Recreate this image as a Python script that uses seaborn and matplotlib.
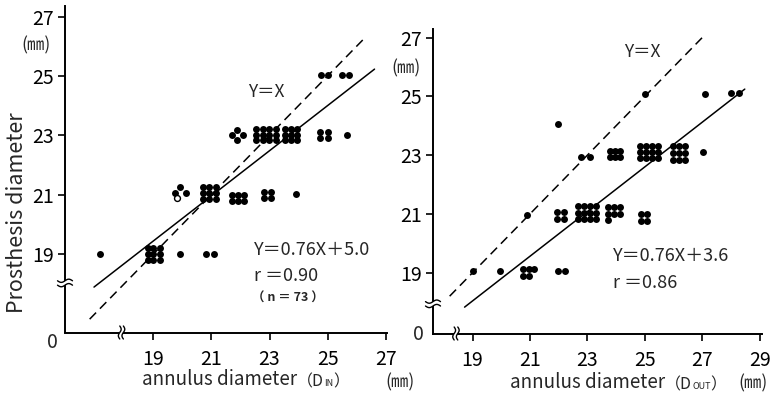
import numpy as np
import matplotlib
matplotlib.use("Agg")
import matplotlib.pyplot as plt
import matplotlib.transforms as mtransforms
import matplotlib.text as mtext
import seaborn as sns

# ---------------- data ----------------
# Left panel: annulus diameter (D_IN) vs prosthesis diameter
in_x = [
    24.78, 25.02, 25.50, 25.74,                                   # ~25
    21.89, 21.71, 22.07, 21.89,                                   # ~23
    22.55, 22.77, 22.99, 23.21, 22.55, 22.77, 22.99, 23.21, 22.55, 22.77, 22.99, 23.21,
    23.54, 23.75, 23.96, 23.54, 23.75, 23.96, 23.54, 23.75, 23.96,
    24.75, 25.02, 24.75, 25.02,
    25.67,
    19.93, 19.75, 20.11,                                          # ~21
    20.69, 20.93, 21.17, 20.69, 20.93, 21.17, 20.69, 20.93, 21.17,
    21.72, 21.92, 22.13, 21.72, 21.92, 22.13,
    22.82, 23.06, 22.82, 23.06,
    23.92,
    17.15,                                                        # ~19
    18.80, 19.00, 19.21, 18.80, 19.00, 19.21, 18.80, 19.00, 19.21,
    19.93,
    20.82, 21.07,
]
in_y = [
    25.03, 25.03, 25.03, 25.03,
    23.19, 23.02, 23.02, 22.85,
    23.20, 23.20, 23.20, 23.20, 23.02, 23.02, 23.02, 23.02, 22.84, 22.84, 22.84, 22.84,
    23.20, 23.20, 23.20, 23.02, 23.02, 23.02, 22.84, 22.84, 22.84,
    23.11, 23.11, 22.92, 22.92,
    23.02,
    21.24, 21.06, 21.06,
    21.26, 21.26, 21.26, 21.06, 21.06, 21.06, 20.86, 20.86, 20.86,
    20.99, 20.99, 20.99, 20.80, 20.80, 20.80,
    21.09, 21.09, 20.89, 20.89,
    21.02,
    19.00,
    19.21, 19.21, 19.21, 19.00, 19.00, 19.00, 18.79, 18.79, 18.79,
    19.00,
    19.00, 19.00,
]
in_open_x = [19.80]
in_open_y = [20.87]

# Right panel: annulus diameter (D_OUT) vs prosthesis diameter
out_x = [
    19.00, 19.94,                                                 # ~19
    20.76, 20.97, 21.14, 20.76, 20.97,
    21.97, 22.22,
    20.89,                                                        # ~21
    21.94, 22.18, 21.94, 22.18,
    22.67, 22.88, 23.09, 23.30, 22.67, 22.88, 23.09, 23.30, 22.67, 22.88, 23.09, 23.30,
    23.72, 23.93, 24.14, 23.72, 23.93, 24.14, 23.72,
    24.86, 25.07, 24.86, 25.07,
    22.77, 23.08,                                                 # ~23
    23.79, 23.97, 24.14, 23.79, 23.97, 24.14,
    24.83, 25.04, 25.25, 25.46, 24.83, 25.04, 25.25, 25.46, 24.83, 25.04, 25.25, 25.46,
    25.99, 26.20, 26.41, 25.99, 26.20, 26.41, 25.99, 26.20, 26.41,
    27.04,
    21.97, 25.00, 27.10, 27.99, 28.27,                            # upper
]
out_y = [
    19.06, 19.06,
    19.13, 19.13, 19.13, 18.88, 18.88,
    19.06, 19.06,
    20.96,
    21.06, 21.06, 20.81, 20.81,
    21.27, 21.27, 21.27, 21.27, 21.04, 21.04, 21.04, 21.04, 20.81, 20.81, 20.81, 20.81,
    21.23, 21.23, 21.23, 21.01, 21.01, 21.01, 20.79,
    21.00, 21.00, 20.77, 20.77,
    22.94, 22.94,
    23.14, 23.14, 23.14, 22.92, 22.92, 22.92,
    23.31, 23.31, 23.31, 23.31, 23.11, 23.11, 23.11, 23.11, 22.91, 22.91, 22.91, 22.91,
    23.31, 23.31, 23.31, 23.08, 23.08, 23.08, 22.85, 22.85, 22.85,
    23.12,
    24.07, 25.09, 25.08, 25.10, 25.10,
]

# regression lines (from the printed equations) and identity line
in_slope, in_intercept = 0.76, 5.0
out_slope, out_intercept = 0.76, 3.6
in_fit_x = [16.95, 26.62]
in_ident_x = [16.80, 26.30]
out_fit_x = [18.72, 28.48]
out_ident_x = [18.20, 27.10]

in_xticks = [19, 21, 23, 25, 27]
out_xticks = [19, 21, 23, 25, 27, 29]
y_ticks = [19, 21, 23, 25, 27]

in_eq = ["Y＝0.76X＋5.0", "r ＝0.90", "（ n ＝ 73 ）"]
out_eq = ["Y＝0.76X＋3.6", "r ＝0.86"]

# ---------------- style ----------------
sns.set_style("ticks")
plt.rcParams["font.family"] = ["Noto Sans CJK JP", "DejaVu Sans"]
plt.rcParams["axes.unicode_minus"] = False

W, H = 771, 394
fig = plt.figure(figsize=(W / 100, H / 100), dpi=100)
fig.patch.set_facecolor("white")


def px_axes(x0, x1, ytop, ybot):
    return fig.add_axes([x0 / W, 1 - ybot / H, (x1 - x0) / W, (ybot - ytop) / H])


def fx(px):
    return px / W


def fy(py):
    return 1 - py / H


ax1 = px_axes(65, 387, 6, 332.5)
ax2 = px_axes(433, 762, 29, 333.5)
ax1.set_xlim(15.95, 27.05)
ax1.set_ylim(16.35, 27.36)
ax2.set_xlim(17.62, 29.08)
ax2.set_ylim(16.93, 27.29)

dash = (0, (6, 3.6))

for ax, xs, ys, fitx, identx, slope, icpt, xt in [
    (ax1, in_x, in_y, in_fit_x, in_ident_x, in_slope, in_intercept, in_xticks),
    (ax2, out_x, out_y, out_fit_x, out_ident_x, out_slope, out_intercept, out_xticks),
]:
    sns.scatterplot(x=xs, y=ys, ax=ax, color="black", s=25, linewidth=0,
                    zorder=3, legend=False)
    fx_arr = np.array(fitx)
    sns.lineplot(x=fx_arr, y=slope * fx_arr + icpt, ax=ax, color="black",
                 linewidth=1.1, zorder=2)
    ix_arr = np.array(identx)
    sns.lineplot(x=ix_arr, y=ix_arr, ax=ax, color="black", linewidth=1.1,
                 linestyle=dash, zorder=2)
    sns.despine(ax=ax)
    for sp in ("left", "bottom"):
        ax.spines[sp].set_color("black")
        ax.spines[sp].set_linewidth(1.4)
    ax.set_xticks(xt)
    ax.set_yticks(y_ticks)
    ax.tick_params(direction="out", length=5, width=1.2, labelsize=14,
                   colors="black")
    ax.tick_params(axis="x", pad=7)
    ax.tick_params(axis="y", pad=3)
    ax.set_xlabel("")
    ax.set_ylabel("")
    ax.set_facecolor("white")

sns.scatterplot(x=in_open_x, y=in_open_y, ax=ax1, facecolor="white",
                edgecolor="black", linewidth=1.0, s=18, zorder=4, legend=False)


# ---------------- axis break marks ----------------
def break_mark(ax, x, y, on_x_axis, w, g, a):
    t = np.linspace(-1, 1, 40)
    trans = fig.dpi_scale_trans + mtransforms.ScaledTranslation(x, y, ax.transData)
    curves = []
    for s in (-1, 1):
        u = t * w
        v = s * g + a * np.sin(np.pi * t)
        if on_x_axis:
            u, v = v, u
        curves.append((u, v))
    px_ = np.concatenate([curves[0][0], curves[1][0][::-1]])
    py_ = np.concatenate([curves[0][1], curves[1][1][::-1]])
    ax.fill(px_, py_, color="white", transform=trans, clip_on=False, zorder=4, lw=0)
    for u, v in curves:
        ax.plot(u, v, transform=trans, color="black", lw=1.0, clip_on=False, zorder=5)


break_mark(ax1, 15.95, 18.02, False, 0.075, 0.022, 0.016)
break_mark(ax1, 17.90, 16.35, True, 0.065, 0.018, 0.014)
break_mark(ax2, 17.62, 17.94, False, 0.075, 0.022, 0.016)
break_mark(ax2, 18.42, 16.93, True, 0.065, 0.018, 0.014)

# ---------------- annotations ----------------
ax1.text(22.89, 24.46, "Y＝X", fontsize=12.5, ha="center", va="center")
ax1.text(22.45, 19.13, in_eq[0], fontsize=13, ha="left", va="center")
ax1.text(22.45, 18.26, in_eq[1], fontsize=13, ha="left", va="center")
ax1.text(22.40, 17.52, in_eq[2], fontsize=9, fontweight="bold",
         ha="left", va="center")

ax2.text(24.90, 26.50, "Y＝X", fontsize=12.5, ha="center", va="center")
ax2.text(23.89, 19.57, out_eq[0], fontsize=13, ha="left", va="center")
ax2.text(23.89, 18.65, out_eq[1], fontsize=13, ha="left", va="center")

# "0" origin labels
fig.text(fx(52), fy(342), "0", fontsize=14, ha="center", va="center")
fig.text(fx(418), fy(334), "0", fontsize=14, ha="center", va="center")

# y units
fig.text(fx(36), fy(45), "(㎜)", fontsize=12.5, ha="center", va="center")
fig.text(fx(406), fy(68), "(㎜)", fontsize=12.5, ha="center", va="center")

# y label
fig.text(fx(17), fy(213), "Prosthesis diameter", rotation=90, fontsize=15.5,
         ha="center", va="center")


# x labels built from pieces (small-caps subscript)
def xlabel(x0, base, sub):
    t1 = fig.text(fx(x0), fy(base), "annulus diameter", fontsize=13.5,
                  ha="left", va="baseline")
    a2 = fig.add_artist(mtext.Annotation(
        "（D", xy=(1, 0), xycoords=t1, fontsize=11.5, ha="left", va="bottom"))
    a3 = fig.add_artist(mtext.Annotation(
        sub, xy=(1, 0.12), xycoords=a2, fontsize=6.5, ha="left", va="bottom"))
    fig.add_artist(mtext.Annotation(
        "）", xy=(1, -0.24), xycoords=a3, fontsize=11.5, ha="left",
        va="bottom"))


xlabel(142, 385, "IN")
xlabel(510, 388, "OUT")

fig.text(fx(400), fy(387), "(㎜)", fontsize=12.5, ha="center", va="baseline")
fig.text(fx(753), fy(388), "(㎜)", fontsize=12.5, ha="center", va="baseline")

fig.savefig("out.png", dpi=100, facecolor="white")
